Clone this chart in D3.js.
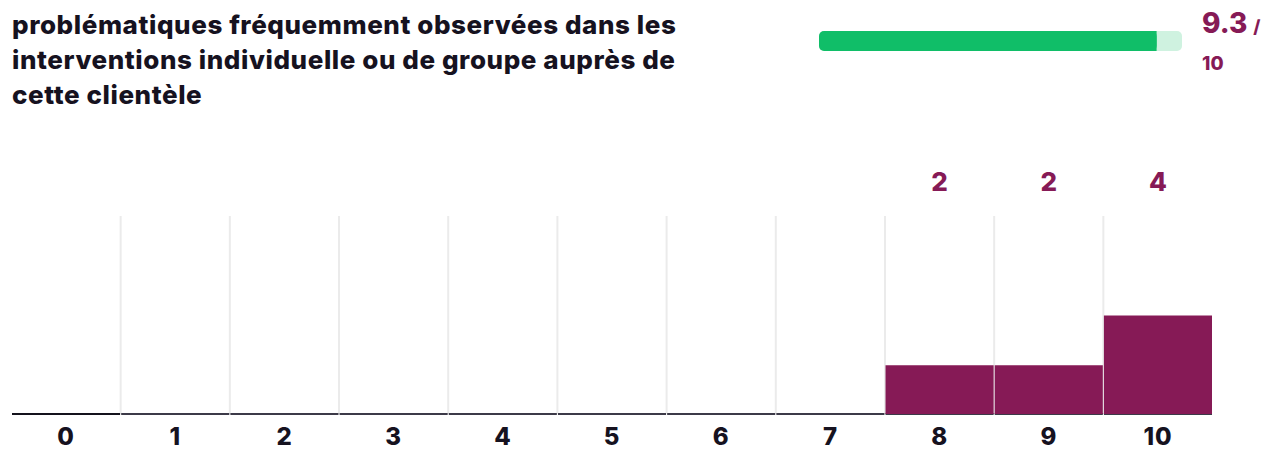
<!DOCTYPE html>
<html>
<head>
<meta charset="utf-8">
<script src="https://cdn.jsdelivr.net/npm/d3@7"></script>
<style>
  html, body { margin: 0; padding: 0; background: #fff; }
  svg { display: block; }
</style>
</head>
<body>
<svg id="chart" width="1271" height="451"></svg>
<script>
// Score distribution (0–10) and the number of answers for each score
const scores = ["0", "1", "2", "3", "4", "5", "6", "7", "8", "9", "10"];
const counts = [0, 0, 0, 0, 0, 0, 0, 0, 2, 2, 4];
const titleLines = [
  "problématiques fréquemment observées dans les",
  "interventions individuelle ou de groupe auprès de",
  "cette clientèle"
];
const average = 9.3;
const maxScore = 10;

const purple = "#861a56";
const ink = "#16121f";
const fontFamily = "Inter, 'DejaVu Sans', sans-serif";

const svg = d3.select("#chart");

// Question title (wrapped, left aligned)
svg.append("g")
  .selectAll("text")
  .data(titleLines)
  .join("text")
  .attr("x", 12)
  .attr("y", (d, i) => 34 + i * 35)
  .attr("font-family", fontFamily)
  .attr("font-weight", 800)
  .attr("font-size", 26)
  .attr("letter-spacing", 0.58)
  .attr("fill", ink)
  .text(d => d);

// Average score gauge
const gauge = d3.scaleLinear().domain([0, maxScore]).range([819, 1182]);
svg.append("rect")
  .attr("x", gauge(0)).attr("y", 31)
  .attr("width", gauge(maxScore) - gauge(0)).attr("height", 20)
  .attr("rx", 5).attr("fill", "#cff2e0");
svg.append("rect")
  .attr("x", gauge(0)).attr("y", 31)
  .attr("width", gauge(average) - gauge(0)).attr("height", 20)
  .attr("rx", 5).attr("fill", "#10be68");
// square off the right end of the filled part
svg.append("rect")
  .attr("x", gauge(average) - 6).attr("y", 31)
  .attr("width", 6).attr("height", 20)
  .attr("fill", "#10be68");

svg.append("text")
  .attr("x", 1202).attr("y", 33)
  .attr("font-family", fontFamily).attr("font-weight", 800)
  .attr("fill", purple)
  .call(t => {
    t.append("tspan").attr("font-size", 28).text(average.toFixed(1));
    t.append("tspan").attr("font-size", 18).attr("dx", 6).text("/");
  });
svg.append("text")
  .attr("x", 1202).attr("y", 70)
  .attr("font-family", fontFamily).attr("font-weight", 800)
  .attr("font-size", 19).attr("fill", purple)
  .text(maxScore);

// Histogram
const plotTop = 216, plotBase = 415;
const x = d3.scaleBand().domain(scores).range([12, 1212]).paddingInner(0.01).paddingOuter(0);
const y = d3.scaleLinear().domain([0, 8]).range([plotBase, plotTop]);
const step = x.step();

// vertical separators between score columns
svg.append("g")
  .selectAll("line")
  .data(scores.slice(1))
  .join("line")
  .attr("x1", d => x(d) - step * 0.005)
  .attr("x2", d => x(d) - step * 0.005)
  .attr("y1", plotTop).attr("y2", plotBase - 1)
  .attr("stroke", "#ebebeb").attr("stroke-width", 2);

// baseline under each column
svg.append("g")
  .selectAll("rect")
  .data(scores)
  .join("rect")
  .attr("x", d => x(d))
  .attr("y", plotBase - 2)
  .attr("width", x.bandwidth())
  .attr("height", 2)
  .attr("fill", (d, i) => i === 0 ? "#14121c" : "#3c3a48");

// bars
const barData = scores.map((s, i) => ({ s, v: counts[i] })).filter(d => d.v > 0);
svg.append("g")
  .selectAll("rect")
  .data(barData)
  .join("rect")
  .attr("x", d => x(d.s))
  .attr("y", d => y(d.v))
  .attr("width", x.bandwidth())
  .attr("height", d => y(0) - y(d.v) - 1)
  .attr("fill", purple);

// value labels above the plot
svg.append("g")
  .selectAll("text")
  .data(barData)
  .join("text")
  .attr("x", d => x(d.s) + x.bandwidth() / 2)
  .attr("y", 191)
  .attr("text-anchor", "middle")
  .attr("font-family", fontFamily).attr("font-weight", 800)
  .attr("font-size", 26).attr("fill", purple)
  .text(d => d.v);

// score axis
const axis = svg.append("g")
  .attr("transform", `translate(0,${plotBase})`)
  .call(d3.axisBottom(x).tickSize(0).tickPadding(13));
axis.select(".domain").remove();
axis.selectAll("text")
  .attr("font-family", fontFamily).attr("font-weight", 800)
  .attr("font-size", 24).attr("letter-spacing", 0.8).attr("fill", ink)
  .attr("dy", "0.71em");
</script>
</body>
</html>
